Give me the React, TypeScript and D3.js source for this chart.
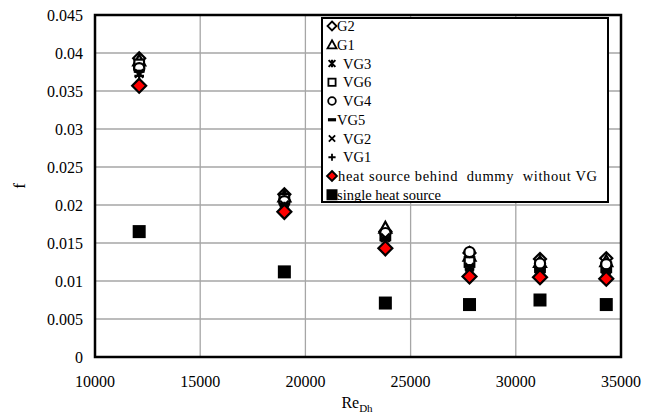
import React from "react";
import * as d3 from "d3";

const re = [12100, 19000, 23800, 27800, 31150, 34300];
const G2 = [0.0393, 0.0214, 0.0165, 0.0137, 0.0129, 0.013];
const G1 = [0.039, 0.0211, 0.017, 0.0133, 0.0125, 0.0126];
const VG3 = [0.0382, 0.0206, 0.0162, 0.0128, 0.0121, 0.012];
const VG6 = [0.0385, 0.0208, 0.016, 0.0125, 0.0118, 0.0118];
const VG4 = [0.038, 0.0205, 0.0163, 0.0138, 0.0123, 0.0122];
const VG5 = [0.0376, 0.0201, 0.0155, 0.012, 0.0115, 0.0113];
const VG2 = [0.0373, 0.02, 0.0157, 0.0118, 0.0113, 0.0112];
const VG1 = [0.037, 0.0198, 0.0153, 0.0116, 0.0111, 0.011];
const dummyNoVG = [0.0357, 0.0191, 0.0143, 0.0106, 0.0105, 0.0103];
const singleSource = [0.0165, 0.0112, 0.0071, 0.0069, 0.0075, 0.0069];

const xTicks = [10000, 15000, 20000, 25000, 30000, 35000];
const yTicks = [0, 0.005, 0.01, 0.015, 0.02, 0.025, 0.03, 0.035, 0.04, 0.045];
const yTickLabels = ["0", "0.005", "0.01", "0.015", "0.02", "0.025", "0.03", "0.035", "0.04", "0.045"];

type Kind = "diamond" | "triangle" | "asterisk" | "square" | "circle" | "dash" | "x" | "plus" | "reddiamond" | "filledsquare";

const series: { name: string; values: number[]; kind: Kind; textDx: number }[] = [
  { name: "G2", values: G2, kind: "diamond", textDx: 0 },
  { name: "G1", values: G1, kind: "triangle", textDx: 0 },
  { name: "VG3", values: VG3, kind: "asterisk", textDx: 6 },
  { name: "VG6", values: VG6, kind: "square", textDx: 6 },
  { name: "VG4", values: VG4, kind: "circle", textDx: 6 },
  { name: "VG5", values: VG5, kind: "dash", textDx: 0 },
  { name: "VG2", values: VG2, kind: "x", textDx: 6 },
  { name: "VG1", values: VG1, kind: "plus", textDx: 6 },
  { name: "heat source behind  dummy  without VG", values: dummyNoVG, kind: "reddiamond", textDx: 1 },
  { name: "single heat source", values: singleSource, kind: "filledsquare", textDx: 0 },
];

const FONT = '"Liberation Serif", "Times New Roman", Times, "DejaVu Serif", serif';

function Marker({ kind, x, y, s, sw }: { kind: Kind; x: number; y: number; s: number; sw: number }) {
  const h = s / 2;
  const t = `translate(${x},${y})`;
  switch (kind) {
    case "diamond":
      return <path transform={t} d={`M0,${-h}L${h},0L0,${h}L${-h},0Z`} fill="#fff" stroke="#000" strokeWidth={sw} />;
    case "reddiamond":
      return <path transform={t} d={`M0,${-h}L${h},0L0,${h}L${-h},0Z`} fill="#ff0000" stroke="#000" strokeWidth={sw} />;
    case "triangle":
      return <path transform={t} d={`M0,${-h}L${h},${h * 0.8}L${-h},${h * 0.8}Z`} fill="#fff" stroke="#000" strokeWidth={sw} />;
    case "square":
      return <rect transform={t} x={-h * 0.8} y={-h * 0.8} width={h * 1.6} height={h * 1.6} fill="#fff" stroke="#000" strokeWidth={sw} />;
    case "filledsquare":
      return <rect transform={t} x={-h} y={-h} width={s} height={s} fill="#000" />;
    case "circle":
      return <circle transform={t} r={h * 0.85} fill="#fff" stroke="#000" strokeWidth={sw} />;
    case "dash":
      return <rect transform={t} x={-h * 0.9} y={-1.6} width={h * 1.8} height={3.2} fill="#000" />;
    case "x":
      return <path transform={t} d={`M${-h * 0.7},${-h * 0.7}L${h * 0.7},${h * 0.7}M${h * 0.7},${-h * 0.7}L${-h * 0.7},${h * 0.7}`} stroke="#000" strokeWidth={sw} />;
    case "plus":
      return <path transform={t} d={`M${-h * 0.8},0L${h * 0.8},0M0,${-h * 0.8}L0,${h * 0.8}`} stroke="#000" strokeWidth={sw} />;
    case "asterisk":
      return (
        <path
          transform={t}
          d={`M${-h * 0.75},${-h * 0.75}L${h * 0.75},${h * 0.75}M${h * 0.75},${-h * 0.75}L${-h * 0.75},${h * 0.75}M0,${-h * 0.85}L0,${h * 0.85}`}
          stroke="#000"
          strokeWidth={sw + 0.3}
        />
      );
  }
}

export default function App() {
  const W = 666, H = 416;
  const L = 95, T = 15, R = 621, B = 357;
  const x = d3.scaleLinear().domain([10000, 35000]).range([L, R]);
  const y = d3.scaleLinear().domain([0, 0.045]).range([B, T]);

  const legX = 322, legY = 18, legW = 286, legH = 184;
  const rowH = 18.75;
  const firstBase = 31;

  return (
    <svg width={W} height={H} style={{ position: "absolute", left: 0, top: 0, background: "#fff", fontFamily: FONT }}>
      <rect x={0} y={0} width={W} height={H} fill="#fff" />
      {xTicks.slice(1, -1).map((v) => (
        <line key={"gx" + v} x1={x(v)} x2={x(v)} y1={T} y2={B} stroke="#a6a6a6" strokeWidth={1.3} />
      ))}
      {yTicks.slice(1, -1).map((v) => (
        <line key={"gy" + v} x1={L} x2={R} y1={y(v)} y2={y(v)} stroke="#a6a6a6" strokeWidth={1.3} />
      ))}
      {yTicks.map((v, i) => (
        <text key={"ty" + v} x={83} y={y(v) + 5.5} textAnchor="end" fontSize={16} fill="#000" style={{ fontFamily: FONT }}>
          {yTickLabels[i]}
        </text>
      ))}
      {xTicks.map((v) => (
        <text key={"tx" + v} x={x(v)} y={387} textAnchor="middle" fontSize={16} fill="#000" style={{ fontFamily: FONT }}>
          {v}
        </text>
      ))}
      <text x={357} y={408} textAnchor="middle" fontSize={16} fill="#000" style={{ fontFamily: FONT }}>
        Re<tspan fontSize={11} dy={4}>Dh</tspan>
      </text>
      <text transform={`translate(25,186) rotate(-90)`} textAnchor="middle" fontSize={17} fill="#000" style={{ fontFamily: FONT }}>
        f
      </text>
      {series.map((s) =>
        s.values.map((v, i) => (
          <Marker
            key={s.name + i}
            kind={s.kind}
            x={x(re[i])}
            y={y(v)}
            s={s.kind === "filledsquare" ? 13 : s.kind === "reddiamond" ? 14 : 12}
            sw={2.2}
          />
        ))
      )}
      <rect x={L} y={T} width={R - L} height={B - T} fill="none" stroke="#000" strokeWidth={2.5} />
      <rect x={legX} y={legY} width={legW} height={legH} fill="#fff" stroke="#000" strokeWidth={2} />
      {series.map((s, i) => {
        const base = firstBase + i * rowH;
        const cy = base - 5;
        const isLong = s.kind === "reddiamond";
        return (
          <g key={"leg" + s.name}>
            <Marker kind={s.kind} x={332} y={cy} s={s.kind === "filledsquare" ? 11 : s.kind === "reddiamond" ? 10 : 9} sw={1.8} />
            <text
              x={337 + s.textDx}
              y={base}
              fontSize={14.5}
              fill="#000"
              style={{ whiteSpace: "pre", fontFamily: FONT }}
              {...(isLong ? { textLength: 259, lengthAdjust: "spacing" } : {})}
            >
              {s.name}
            </text>
          </g>
        );
      })}
    </svg>
  );
}
